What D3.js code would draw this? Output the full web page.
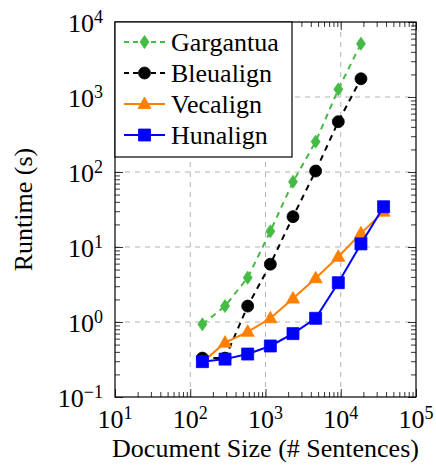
<!DOCTYPE html>
<html>
<head>
<meta charset="utf-8">
<script src="https://cdn.jsdelivr.net/npm/d3@7"></script>
<style>
  body { margin: 0; background: #fff; }
</style>
</head>
<body>
<svg id="chart" width="436" height="466" font-family="'Liberation Serif', 'Times New Roman', Times, 'DejaVu Serif', serif"></svg>
<script>
// document sizes (# sentences)
let sizes = [145, 290, 580, 1160, 2320, 4640, 9280, 18560, 37120];

// runtimes in seconds
let gargantua = [0.93, 1.63, 3.9, 16.2, 74, 254, 1265, 5140];
let bleualign = [0.33, 0.33, 1.63, 5.9, 25.4, 103, 469, 1750];
let vecalign  = [0.29, 0.53, 0.74, 1.12, 2.05, 3.83, 7.4, 15.2, 29.6];
let hunalign  = [0.296, 0.32, 0.374, 0.479, 0.70, 1.12, 3.34, 11.0, 34.4];

let seriesNames = ["Gargantua", "Bleualign", "Vecalign", "Hunalign"];
let seriesValues = [gargantua, bleualign, vecalign, hunalign];

let xMajor = [1e1, 1e2, 1e3, 1e4, 1e5];
let xMajorExp = ["1", "2", "3", "4", "5"];
let yMajor = [1e-1, 1e0, 1e1, 1e2, 1e3, 1e4];
let yMajorExp = ["\u22121", "0", "1", "2", "3", "4"];

// look of each series
let styles = [
    { color: "#44bb44", dash: "6,5", mark: "diamond" },
    { color: "#000000", dash: "6,5", mark: "circle" },
    { color: "#ff7f00", dash: null, mark: "triangle" },
    { color: "#0000ff", dash: null, mark: "square" }
];

let svg = d3.select("#chart");
let pLeft = 115, pRight = 416, pTop = 22, pBottom = 397;

let x = d3.scaleLog().domain([10, 1e5]).range([pLeft, pRight]);
let y = d3.scaleLog().domain([0.1, 1e4]).range([pBottom, pTop]);

// minor tick values (2..9 per decade)
let minorOf = (scale) => scale.ticks().filter(v => {
    let m = v / Math.pow(10, Math.floor(Math.log10(v) + 1e-9));
    return Math.abs(m - 1) > 1e-6;
});

// dashed grid
let grid = svg.append("g").attr("stroke", "#b3b3b3").attr("stroke-width", 1).attr("stroke-dasharray", "5,5");
grid.selectAll(".gx").data(xMajor.slice(1, -1)).enter().append("line")
    .attr("x1", d => x(d)).attr("x2", d => x(d)).attr("y1", pTop).attr("y2", pBottom);
grid.selectAll(".gy").data(yMajor.slice(1, -1)).enter().append("line")
    .attr("y1", d => y(d)).attr("y2", d => y(d)).attr("x1", pLeft).attr("x2", pRight);

// ticks on all four sides, pointing inward
let tickAxis = (axisFn, scale, values, size, pos) => {
    let g = svg.append("g").attr("transform", pos)
        .call(axisFn(scale).tickValues(values).tickSize(-size).tickFormat(""));
    g.select(".domain").remove();
    g.selectAll("line").attr("stroke", "#000").attr("stroke-width", 0.8);
};
tickAxis(d3.axisBottom, x, minorOf(x), 5, `translate(0,${pBottom})`);
tickAxis(d3.axisBottom, x, xMajor, 8, `translate(0,${pBottom})`);
tickAxis(d3.axisTop, x, minorOf(x), 5, `translate(0,${pTop})`);
tickAxis(d3.axisTop, x, xMajor, 8, `translate(0,${pTop})`);
tickAxis(d3.axisLeft, y, minorOf(y), 5, `translate(${pLeft},0)`);
tickAxis(d3.axisLeft, y, yMajor, 8, `translate(${pLeft},0)`);
tickAxis(d3.axisRight, y, minorOf(y), 5, `translate(${pRight},0)`);
tickAxis(d3.axisRight, y, yMajor, 8, `translate(${pRight},0)`);

// tick labels as 10^n
xMajor.forEach((v, i) => {
    let t = svg.append("text").attr("x", x(v)).attr("y", 428)
        .attr("text-anchor", "middle").attr("font-size", 26);
    t.append("tspan").text("10");
    t.append("tspan").attr("dy", -9).attr("font-size", 18).text(xMajorExp[i]);
});
yMajor.forEach((v, i) => {
    let t = svg.append("text").attr("x", 103).attr("y", y(v) + 10)
        .attr("text-anchor", "end").attr("font-size", 26);
    t.append("tspan").text("10");
    t.append("tspan").attr("dy", -9).attr("font-size", 18).text(yMajorExp[i]);
});

// axis titles
svg.append("text").attr("x", (pLeft + pRight) / 2).attr("y", 457)
    .attr("text-anchor", "middle").attr("font-size", 26)
    .text("Document Size (# Sentences)");
svg.append("text").attr("transform", `translate(32,${(pTop + pBottom) / 2}) rotate(-90)`)
    .attr("text-anchor", "middle").attr("font-size", 26)
    .text("Runtime (s)");

// marker shapes
let markPath = (kind) => {
    if (kind === "diamond") return "M0,-6.5L4.5,0L0,6.5L-4.5,0Z";
    if (kind === "circle") return d3.symbol(d3.symbolCircle, 113)();
    if (kind === "triangle") return "M0,-7L6.5,4.5L-6.5,4.5Z";
    return "M-6,-6H6V6H-6Z";
};

let line = d3.line().x(d => x(d[0])).y(d => y(d[1]));

let plot = svg.append("g");
seriesValues.forEach((vals, i) => {
    let pts = vals.map((v, j) => [sizes[j], v]);
    let s = styles[i];
    plot.append("path").datum(pts).attr("d", line)
        .attr("fill", "none").attr("stroke", s.color).attr("stroke-width", 2)
        .attr("stroke-dasharray", s.dash);
    plot.selectAll(".m" + i).data(pts).enter().append("path")
        .attr("d", markPath(s.mark))
        .attr("transform", d => `translate(${x(d[0])},${y(d[1])})`)
        .attr("fill", s.color).attr("stroke", s.color).attr("stroke-width", 0.8);
});

// frame
svg.append("rect").attr("x", pLeft).attr("y", pTop).attr("width", pRight - pLeft).attr("height", pBottom - pTop)
    .attr("fill", "none").attr("stroke", "#000").attr("stroke-width", 1.2);

// legend
let legend = svg.append("g");
legend.append("rect").attr("x", pLeft).attr("y", pTop).attr("width", 177).attr("height", 135)
    .attr("fill", "#fff").attr("stroke", "#000").attr("stroke-width", 1.2);
seriesNames.forEach((name, i) => {
    let ly = 42 + i * 31, s = styles[i];
    legend.append("line").attr("x1", 124).attr("x2", 165).attr("y1", ly).attr("y2", ly)
        .attr("stroke", s.color).attr("stroke-width", 2).attr("stroke-dasharray", s.dash ? "5,4" : null);
    legend.append("path").attr("d", markPath(s.mark)).attr("transform", `translate(144.5,${ly})`)
        .attr("fill", s.color).attr("stroke", s.color).attr("stroke-width", 0.8);
    legend.append("text").attr("x", 171).attr("y", ly + 9).attr("font-size", 26).text(name);
});
</script>
</body>
</html>
